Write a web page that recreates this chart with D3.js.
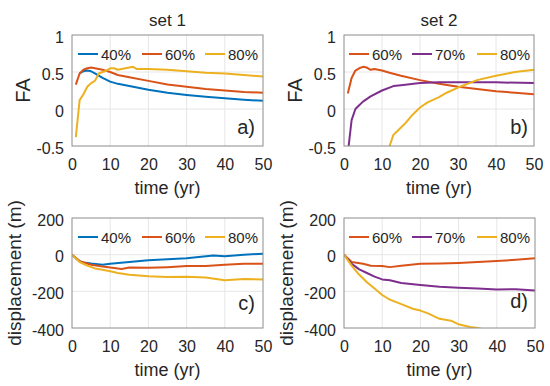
<!DOCTYPE html>
<html>
<head>
<meta charset="utf-8">
<script src="https://cdn.jsdelivr.net/npm/d3@7/dist/d3.min.js"></script>
<style>
  body { margin: 0; background: #fff; }
  svg { font-family: "Liberation Sans", Arial, sans-serif; }
  .tick text { fill: #262626; }
</style>
</head>
<body>
<script>
// ---- data ----
var colors = { "40%": "#0072BD", "60%": "#D95319", "70%": "#7E2F8E", "80%": "#EDB120" };

// set 1, FA
var tA40 = [2, 3, 4, 5, 6, 8, 10, 12, 15, 20, 25, 30, 35, 40, 45, 50];
var vA40 = [0.48, 0.51, 0.52, 0.51, 0.48, 0.42, 0.37, 0.34, 0.31, 0.26, 0.22, 0.19, 0.165, 0.145, 0.125, 0.11];
var tA60 = [1, 2, 3, 4, 5, 6, 8, 10, 12, 15, 20, 25, 30, 35, 40, 45, 50];
var vA60 = [0.33, 0.48, 0.53, 0.55, 0.56, 0.55, 0.53, 0.5, 0.46, 0.43, 0.38, 0.33, 0.3, 0.27, 0.25, 0.23, 0.22];
var tA80 = [1, 2, 3, 4, 5, 6, 7, 8, 9, 10, 11, 12, 13, 14, 16, 17, 20, 25, 30, 35, 40, 45, 50];
var vA80 = [-0.38, 0.12, 0.2, 0.3, 0.35, 0.38, 0.48, 0.5, 0.52, 0.55, 0.55, 0.53, 0.54, 0.55, 0.57, 0.54, 0.54, 0.53, 0.51, 0.49, 0.48, 0.46, 0.44];

// set 2, FA
var tB60 = [1, 2, 3, 4, 5, 6, 7, 8, 10, 12, 15, 20, 25, 30, 35, 40, 45, 50];
var vB60 = [0.21, 0.42, 0.52, 0.55, 0.57, 0.56, 0.53, 0.54, 0.52, 0.49, 0.45, 0.39, 0.34, 0.3, 0.27, 0.24, 0.22, 0.2];
var tB70 = [1, 2, 3, 4, 5, 7, 10, 13, 15, 20, 25, 30, 40, 50];
var vB70 = [-0.6, -0.15, 0.0, 0.05, 0.1, 0.17, 0.25, 0.31, 0.32, 0.35, 0.36, 0.36, 0.36, 0.35];
var tB80 = [11, 12, 13, 14, 16, 18, 20, 22, 25, 27, 30, 35, 40, 45, 50];
var vB80 = [-0.65, -0.5, -0.35, -0.3, -0.2, -0.08, 0.02, 0.09, 0.16, 0.22, 0.29, 0.39, 0.45, 0.5, 0.53];

// set 1, displacement
var tC40 = [0, 1, 2, 3, 5, 8, 10, 15, 20, 25, 30, 37, 40, 45, 50];
var vC40 = [0, -20, -35, -42, -48, -55, -50, -40, -30, -25, -20, -5, -8, 0, 5];
var tC60 = [0, 2, 5, 8, 10, 13, 15, 20, 25, 30, 35, 40, 45, 50];
var vC60 = [0, -35, -55, -65, -70, -78, -70, -72, -68, -62, -62, -55, -50, -50];
var tC80 = [0, 2, 4, 6, 8, 10, 12, 15, 20, 25, 30, 35, 40, 45, 50];
var vC80 = [0, -40, -60, -75, -82, -90, -100, -110, -118, -122, -120, -125, -140, -133, -135];

// set 2, displacement
var tD60 = [0, 2, 5, 7, 10, 12, 15, 20, 25, 30, 35, 40, 45, 50];
var vD60 = [0, -40, -50, -60, -62, -68, -60, -50, -48, -45, -40, -35, -28, -20];
var tD70 = [0, 2, 4, 6, 8, 10, 12, 15, 20, 25, 30, 35, 40, 45, 50];
var vD70 = [0, -50, -80, -100, -120, -135, -140, -155, -165, -175, -180, -185, -190, -188, -195];
var tD80 = [0, 2, 4, 6, 8, 10, 12, 15, 18, 20, 22, 25, 28, 30, 33, 35, 36, 37];
var vD80 = [0, -60, -110, -150, -185, -220, -245, -270, -295, -305, -320, -350, -360, -380, -395, -400, -405, -420];

var xTicks = [0, 10, 20, 30, 40, 50];
var faTicks = [-0.5, 0, 0.5, 1];
var faTickLabels = ["-0.5", "0", "0.5", "1"];
var dispTicks = [-400, -200, 0, 200];

var width = 550, height = 386;

var svg = d3.select("body").append("svg")
    .attr("width", width)
    .attr("height", height);

var panels = [
    { id: "a", title: "set 1", x0: 72, x1: 263, y0: 35, y1: 146, domain: [-0.5, 1], ticks: faTicks,
      fmt: function (d, i) { return faTickLabels[i]; }, ylabel: "FA", ylabelX: 30, ylabelSize: 20,
      series: [["40%", tA40, vA40], ["60%", tA60, vA60], ["80%", tA80, vA80]],
      legend: [78, 142, 205], tag: "a)", tagX: 255, tagY: 127 },
    { id: "b", title: "set 2", x0: 344, x1: 534, y0: 35, y1: 146, domain: [-0.5, 1], ticks: faTicks,
      fmt: function (d, i) { return faTickLabels[i]; }, ylabel: "FA", ylabelX: 302, ylabelSize: 20,
      series: [["60%", tB60, vB60], ["70%", tB70, vB70], ["80%", tB80, vB80]],
      legend: [349, 412, 477], tag: "b)", tagX: 528, tagY: 127 },
    { id: "c", title: null, x0: 72, x1: 263, y0: 218, y1: 328, domain: [-400, 200], ticks: dispTicks,
      fmt: function (d) { return d; }, ylabel: "displacement (m)", ylabelX: 21, ylabelSize: 19,
      series: [["40%", tC40, vC40], ["60%", tC60, vC60], ["80%", tC80, vC80]],
      legend: [78, 142, 205], tag: "c)", tagX: 255, tagY: 303 },
    { id: "d", title: null, x0: 344, x1: 535, y0: 218, y1: 328, domain: [-400, 200], ticks: dispTicks,
      fmt: function (d) { return d; }, ylabel: "displacement (m)", ylabelX: 293, ylabelSize: 19,
      series: [["60%", tD60, vD60], ["70%", tD70, vD70], ["80%", tD80, vD80]],
      legend: [349, 412, 477], tag: "d)", tagX: 528, tagY: 301 }
];

panels.forEach(function (p) {
    var x = d3.scaleLinear().domain([0, 50]).range([p.x0, p.x1]);
    var y = d3.scaleLinear().domain(p.domain).range([p.y1, p.y0]);
    var g = svg.append("g").attr("class", "panel-" + p.id);

    // grid
    g.selectAll(".vgrid").data(xTicks.slice(1, -1)).enter().append("line")
        .attr("x1", function (d) { return x(d); }).attr("x2", function (d) { return x(d); })
        .attr("y1", p.y0).attr("y2", p.y1)
        .style("stroke", "#e6e6e6").style("stroke-width", 1);
    g.selectAll(".hgrid").data(p.ticks.slice(1, -1)).enter().append("line")
        .attr("x1", p.x0).attr("x2", p.x1)
        .attr("y1", function (d) { return y(d); }).attr("y2", function (d) { return y(d); })
        .style("stroke", "#e6e6e6").style("stroke-width", 1);

    // axes
    var xAxis = g.append("g").attr("transform", "translate(0," + p.y1 + ")")
        .call(d3.axisBottom(x).tickValues(xTicks).tickSize(0));
    var yAxis = g.append("g").attr("transform", "translate(" + p.x0 + ",0)")
        .call(d3.axisLeft(y).tickValues(p.ticks).tickFormat(p.fmt).tickSize(0).tickPadding(8));
    [xAxis, yAxis].forEach(function (a) {
        a.select(".domain").remove();
        a.selectAll("text").style("font-size", "16px").style("font-family", "Liberation Sans, Arial, sans-serif");
    });
    xAxis.selectAll("text").attr("y", 13).attr("dy", "0.71em");
    yAxis.selectAll("text").attr("dy", "0.45em");

    // clip
    svg.append("clipPath").attr("id", "clip-" + p.id)
        .append("rect").attr("x", p.x0).attr("y", p.y0)
        .attr("width", p.x1 - p.x0).attr("height", p.y1 - p.y0);

    var line = d3.line()
        .x(function (d) { return x(d[0]); })
        .y(function (d) { return y(d[1]); });

    g.append("g").attr("clip-path", "url(#clip-" + p.id + ")")
        .selectAll("path").data(p.series).enter().append("path")
        .attr("d", function (s) { return line(d3.zip(s[1], s[2])); })
        .style("fill", "none")
        .style("stroke", function (s) { return colors[s[0]]; })
        .style("stroke-width", 2)
        .style("stroke-linejoin", "round");

    // box
    g.append("rect").attr("x", p.x0).attr("y", p.y0)
        .attr("width", p.x1 - p.x0).attr("height", p.y1 - p.y0)
        .style("fill", "none").style("stroke", "#8c8c8c").style("stroke-width", 1);

    // legend
    var ly = p.y0 + 19;
    p.series.forEach(function (s, i) {
        var lx = p.legend[i];
        g.append("line").attr("x1", lx).attr("x2", lx + 20).attr("y1", ly).attr("y2", ly)
            .style("stroke", colors[s[0]]).style("stroke-width", 2);
        g.append("text").attr("x", lx + 23).attr("y", ly + 5.5)
            .style("font-size", "15px").style("fill", "#262626").text(s[0]);
    });

    // tag
    g.append("text").attr("x", p.tagX).attr("y", p.tagY + 7)
        .attr("text-anchor", "end").style("font-size", "20px").style("fill", "#262626").text(p.tag);

    // x label
    g.append("text").attr("x", (p.x0 + p.x1) / 2).attr("y", p.y1 + 48)
        .attr("text-anchor", "middle").style("font-size", "18px").style("fill", "#262626").text("time (yr)");

    // y label
    g.append("text")
        .attr("transform", "translate(" + p.ylabelX + "," + ((p.y0 + p.y1) / 2) + ") rotate(-90)")
        .attr("text-anchor", "middle").style("font-size", p.ylabelSize + "px").style("fill", "#262626").text(p.ylabel);

    // title
    if (p.title) {
        g.append("text").attr("x", (p.x0 + p.x1) / 2).attr("y", p.y0 - 9)
            .attr("text-anchor", "middle").style("font-size", "17px").style("fill", "#262626").text(p.title);
    }
});
</script>
</body>
</html>
